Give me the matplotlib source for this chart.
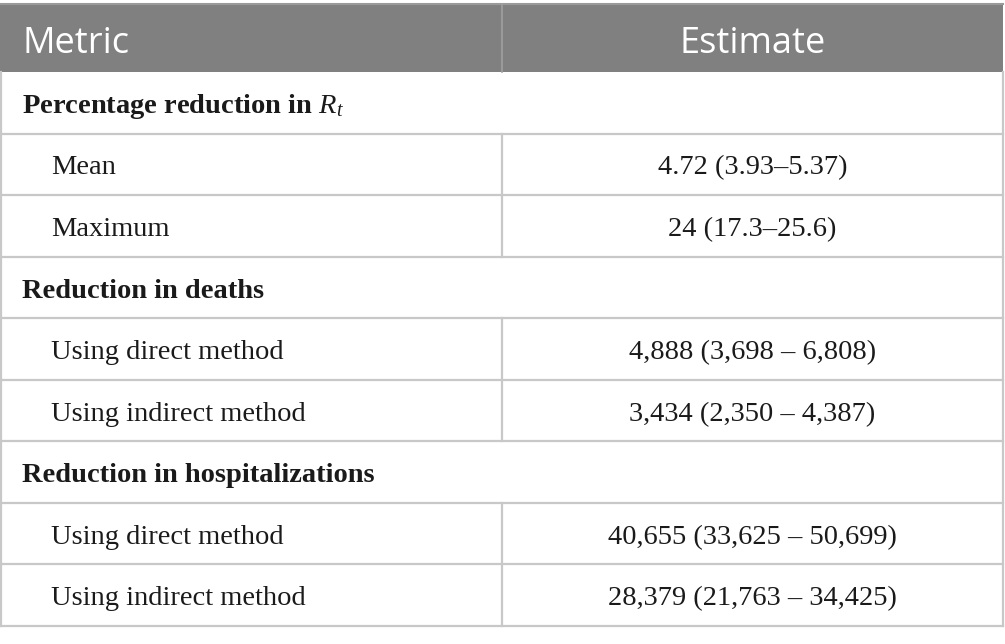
import matplotlib
matplotlib.use("Agg")
import matplotlib.pyplot as plt
from matplotlib.patches import Rectangle

plt.rcParams["mathtext.fontset"] = "custom"
plt.rcParams["mathtext.rm"] = "Liberation Serif"
plt.rcParams["mathtext.it"] = "Liberation Serif:italic"

# ---- data ----
header = ["Metric", "Estimate"]
row_labels = ["Percentage reduction in $R_t$", "Mean", "Maximum",
              "Reduction in deaths", "Using direct method", "Using indirect method",
              "Reduction in hospitalizations", "Using direct method", "Using indirect method"]
row_values = ["", "4.72 (3.93\u20135.37)", "24 (17.3\u201325.6)",
              "", "4,888 (3,698 \u2013 6,808)", "3,434 (2,350 \u2013 4,387)",
              "", "40,655 (33,625 \u2013 50,699)", "28,379 (21,763 \u2013 34,425)"]
is_section = [True, False, False, True, False, False, True, False, False]

W, H = 1005, 644
fig = plt.figure(figsize=(W / 100, H / 100), dpi=100)
ax = fig.add_axes([0, 0, 1, 1])
ax.set_xlim(0, W)
ax.set_ylim(H, 0)
ax.axis("off")

left, right, mid = 0, 1003, 502
top, head_bot = 4, 72
row_h = (626 - head_bot) / len(row_labels)
line_c = "#c8c8c8"
txt_c = "#1a1a1a"
fs = 20.5

# header
ax.add_patch(Rectangle((left, top), right - left, head_bot - top, facecolor="#808080",
                       edgecolor="none", zorder=1))
ax.plot([left, right], [top, top], color="#9a9a9a", lw=1.5, zorder=2)
ax.plot([mid, mid], [top, head_bot], color="#a0a0a0", lw=1.2, zorder=2)
ax.text(22, 53, header[0], color="white", fontsize=26,
        family="Open Sans", va="baseline", ha="left", zorder=3)
ax.text((mid + right) / 2, 53, header[1], color="white", fontsize=26,
        family="Open Sans", va="baseline", ha="center", zorder=3)

# body
for i, (lab, val, sec) in enumerate(zip(row_labels, row_values, is_section)):
    y0 = head_bot + i * row_h
    y1 = y0 + row_h
    yb = y0 + row_h * 0.665
    ax.plot([left, right], [y1, y1], color=line_c, lw=1.6, zorder=2)
    if sec:
        ax.text(22, yb, lab, fontsize=fs, fontweight="bold", family="Liberation Serif",
                va="baseline", ha="left", color=txt_c, zorder=3)
    else:
        ax.plot([mid, mid], [y0, y1], color=line_c, lw=1.6, zorder=2)
        ax.text(51, yb, lab, fontsize=fs, family="Liberation Serif",
                va="baseline", ha="left", color=txt_c, zorder=3)
        ax.text((mid + right) / 2, yb, val, fontsize=fs, family="Liberation Serif",
                va="baseline", ha="center", color=txt_c, zorder=3)

# outer borders
ax.plot([left + 0.8, left + 0.8], [head_bot, 626], color=line_c, lw=1.6, zorder=2)
ax.plot([right, right], [head_bot, 626], color=line_c, lw=1.6, zorder=2)

fig.savefig("out.png", dpi=100)
